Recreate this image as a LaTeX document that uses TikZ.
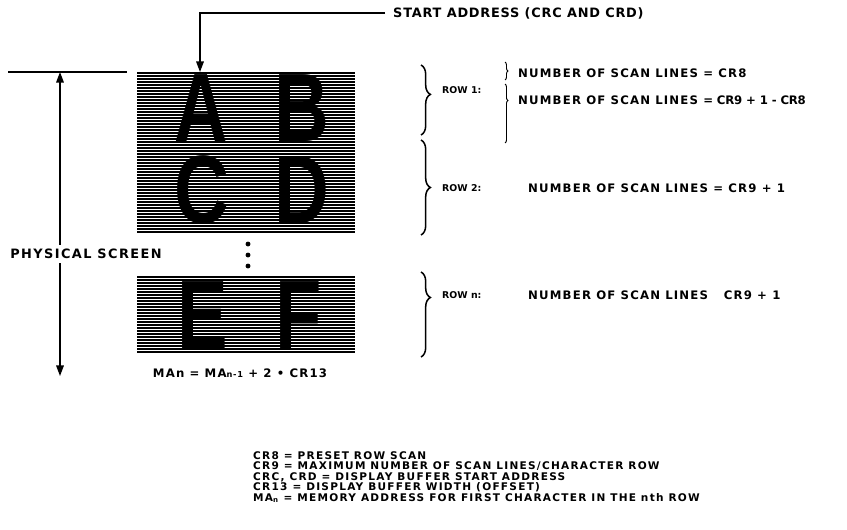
\documentclass[tikz,border=0pt]{standalone}
\usepackage{fontspec}
\setmainfont{DejaVu Sans}
\newfontfamily\glyphfont{Liberation Sans}
\usetikzlibrary{arrows.meta,decorations.pathreplacing}

\begin{document}
\begin{tikzpicture}[x=0.03cm, y=-0.03cm, >={Triangle[length=9pt,width=6.5pt]},
    every node/.style={inner sep=0pt},
    lbl/.style={anchor=west, font=\bfseries\fontsize{10}{12}\selectfont\addfontfeature{LetterSpace=10}},
    rowlbl/.style={anchor=west, font=\bfseries\fontsize{8}{10}\selectfont},
    key/.style={anchor=north west, align=left, font=\bfseries\fontsize{9}{9}\selectfont\addfontfeature{LetterSpace=12}},
    glyph/.style={font=\glyphfont\bfseries\fontsize{83}{83}\selectfont},
    scan/.style={line width=1.35pt},
    wire/.style={line width=1.1pt},
    bigbrace/.style={decorate, decoration={brace, amplitude=8pt}, line width=1.3pt},
    smallbrace/.style={decorate, decoration={brace, amplitude=2.5pt}, line width=0.8pt}]
  \useasboundingbox (0,0) rectangle (847,529);
  % scan lines of the screen
  \foreach \y in {73,76,...,232}
    \draw[scan] (137,\y) -- (355,\y);
  \foreach \y in {277,280,...,352}
    \draw[scan] (137,\y) -- (355,\y);
  % characters
  \node[glyph] (chA) at (201,108) {\scalebox{0.76}[1]{A}};
  \node[glyph] (chB) at (302,108) {\scalebox{0.78}[1]{B}};
  \node[glyph] (chC) at (202,190) {\scalebox{0.78}[1]{C}};
  \node[glyph] (chD) at (302,190) {\scalebox{0.78}[1]{D}};
  \node[glyph] (chE) at (203,315) {\scalebox{0.78}[1]{E}};
  \node[glyph] (chF) at (299,315) {\scalebox{0.78}[1]{F}};
  \foreach \y in {244,255,266}
    \fill (248,\y) circle[radius=2.1pt];
  % start address
  \node[lbl, font=\bfseries\fontsize{11}{12}\selectfont\addfontfeature{LetterSpace=6}, inner xsep=0.24cm] (start) at (385,13) {START ADDRESS (CRC AND CRD)};
  \coordinate (bend) at (200,13);
  \coordinate (addr) at (200,72);
  \draw[wire,->] (start.west) -- (bend) -- (addr);
  % physical screen
  \coordinate (scrtl) at (8,72);
  \coordinate (scrtr) at (127,72);
  \coordinate (scrtop) at (60,72);
  \coordinate (scrbot) at (60,376);
  \draw[wire] (scrtl) -- (scrtr);
  \node[lbl, anchor=center, inner ysep=0.13cm, font=\bfseries\fontsize{11}{12}\selectfont\addfontfeature{LetterSpace=11}] (phys) at (86,254) {PHYSICAL SCREEN};
  \draw[wire,->] (scrtop |- phys.north) -- (scrtop);
  \draw[wire,->] (scrbot |- phys.south) -- (scrbot);
  \node[lbl, anchor=center] (addrn) at (240,373) {MAn = MA{\fontsize{7}{8}\selectfont n-1} + 2 • CR13};
  % rows
  \draw[bigbrace, decoration={aspect=0.42}] (421,65) -- (421,135);
  \draw[bigbrace] (421,140) -- (421,235);
  \draw[bigbrace, decoration={aspect=0.3}] (421,272) -- (421,357);
  \draw[smallbrace] (505,62) -- (505,80);
  \draw[smallbrace, decoration={aspect=0.28}] (505,84) -- (505,143);
  \node[rowlbl] (row1) at (442,90) {ROW 1:};
  \node[rowlbl] (row2) at (442,188) {ROW 2:};
  \node[rowlbl] (rown) at (442,295) {ROW n:};
  \node[lbl] (nsl1) at (518,73) {NUMBER OF SCAN LINES = CR8};
  \node[lbl] (nsl2) at (518,100) {NUMBER OF SCAN LINES {\addfontfeature{LetterSpace=-2}= CR9 + 1 - CR8}};
  \node[lbl] (nsl3) at (528,188) {NUMBER OF SCAN LINES = CR9 + 1};
  \node[lbl] (nsl4) at (528,295) {NUMBER OF SCAN LINES \ \ CR9 + 1};
  % legend
  \node[key] (legend) at (253,451) {CR8 = PRESET ROW SCAN\\
    CR9 = MAXIMUM NUMBER OF SCAN LINES/CHARACTER ROW\\
    CRC, CRD = DISPLAY BUFFER START ADDRESS\\
    CR13 = DISPLAY BUFFER WIDTH (OFFSET)\\
    MA\textsubscript{n} = MEMORY ADDRESS FOR FIRST CHARACTER IN THE nth ROW};
\end{tikzpicture}
\end{document}
